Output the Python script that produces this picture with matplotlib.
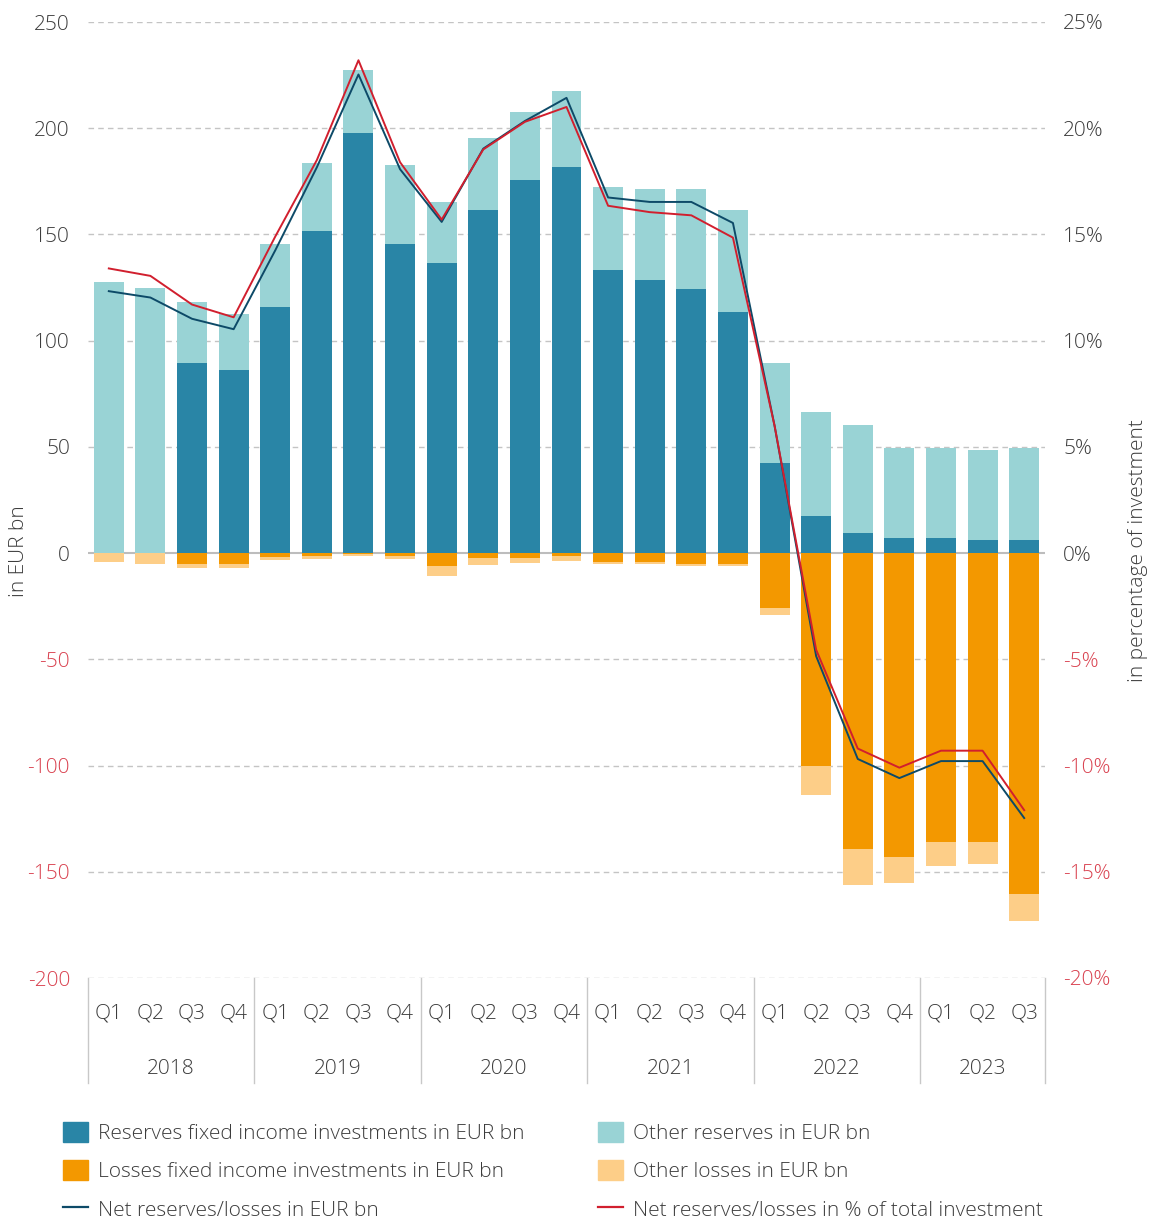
import matplotlib
matplotlib.use("Agg")
import matplotlib.pyplot as plt
import matplotlib.transforms as mtransforms
from matplotlib.patches import Patch
from matplotlib.lines import Line2D
import numpy as np

plt.rcParams['font.family'] = ['Open Sans', 'DejaVu Sans']

quarters = ['Q1', 'Q2', 'Q3', 'Q4'] * 5 + ['Q1', 'Q2', 'Q3']
years = ['2018', '2019', '2020', '2021', '2022', '2023']
quarters_per_year = [4, 4, 4, 4, 4, 3]

reserves_fixed = [0, 0, 89.4, 86, 116, 151.5, 197.6, 145.4, 136.5, 161.4, 175.5, 181.6,
                  133.2, 128.5, 124.2, 113.4, 42.4, 17.4, 9.4, 7, 7, 6, 6]
other_reserves = [127.5, 125, 28.6, 26.5, 29.4, 32, 29.7, 37.2, 28.7, 33.9, 32, 35.8,
                  39, 42.8, 47.1, 48, 47, 49, 50.8, 42.4, 42.4, 42.5, 43.4]
losses_fixed = [0, 0, -5.2, -5.2, -1.7, -1.2, -0.3, -1.2, -6.1, -2.2, -2.2, -1.2,
                -4.2, -4.2, -5.3, -5.3, -25.9, -100.2, -139.3, -143.1, -136, -136, -160.5]
other_losses = [-4.2, -5.2, -1.9, -1.9, -1.4, -1.4, -1.0, -1.4, -4.7, -3.3, -2.4, -2.4,
                -0.9, -0.9, -0.8, -0.9, -3.3, -13.7, -16.9, -12.2, -11.3, -10.4, -12.7]
net_eur = [123.3, 120.3, 110.3, 105.4, 142.5, 181.6, 225.3, 180.7, 155.9, 190.4, 203.4, 214.3,
           167.4, 165.3, 165.3, 155.4, 60, -48.5, -96.9, -105.9, -97.9, -97.9, -124.7]
net_pct = [13.4, 13.05, 11.7, 11.1, 14.9, 18.5, 23.2, 18.4, 15.7, 19.0, 20.3, 21.0,
           16.35, 16.05, 15.9, 14.85, 6.0, -4.55, -9.2, -10.1, -9.3, -9.3, -12.1]

left_ticks = [-200, -150, -100, -50, 0, 50, 100, 150, 200, 250]
right_ticks = [-20, -15, -10, -5, 0, 5, 10, 15, 20, 25]

C_RES = '#2985a6'
C_OTH_RES = '#99d3d5'
C_LOSS = '#f39800'
C_OTH_LOSS = '#fdce88'
C_NET = '#0d4a68'
C_PCT = '#d11f2e'
C_TXT = '#3c3c3c'
C_NEG = '#d9414f'
C_GRID = '#c4c4c4'
FS = 15

fig = plt.figure(figsize=(11.6, 12.19), dpi=100)
ax = fig.add_axes([88 / 1160, 1 - 978 / 1219, 957 / 1160, 956 / 1219])
ax2 = ax.twinx()

x = np.arange(len(quarters))
w = 0.72
ax.bar(x, reserves_fixed, w, color=C_RES, zorder=3)
ax.bar(x, other_reserves, w, bottom=reserves_fixed, color=C_OTH_RES, zorder=3)
ax.bar(x, losses_fixed, w, color=C_LOSS, zorder=3)
ax.bar(x, other_losses, w, bottom=losses_fixed, color=C_OTH_LOSS, zorder=3)
ax.plot(x, net_eur, color=C_NET, lw=1.4, zorder=4)
ax2.plot(x, net_pct, color=C_PCT, lw=1.4, zorder=4)

ax.set_xlim(-0.5, len(quarters) - 0.5)
ax.set_ylim(-200, 250)
ax2.set_ylim(-20, 25)

for t in left_ticks:
    if t == 0:
        ax.axhline(0, color='#bdbdbd', lw=1.5, zorder=2)
    else:
        ax.axhline(t, color=C_GRID, lw=1, ls=(0, (4, 3)), zorder=1)

ax.set_yticks(left_ticks)
ax.set_yticklabels([str(t) for t in left_ticks], fontsize=FS, fontweight='light')
for lab, t in zip(ax.get_yticklabels(), left_ticks):
    lab.set_color(C_NEG if t < 0 else C_TXT)
ax2.set_yticks(right_ticks)
ax2.set_yticklabels([f"{t}%" for t in right_ticks], fontsize=FS, fontweight='light')
for lab, t in zip(ax2.get_yticklabels(), right_ticks):
    lab.set_color(C_NEG if t < 0 else C_TXT)

ax.tick_params(axis='y', length=0, pad=13)
ax2.tick_params(axis='y', length=0, pad=13)

ax.set_xticks(x)
ax.set_xticklabels(quarters, fontsize=FS, fontweight='light', color=C_TXT)
ax.tick_params(axis='x', length=0, pad=18)

for a in (ax, ax2):
    for s in a.spines.values():
        s.set_visible(False)

trans = mtransforms.blended_transform_factory(ax.transData, ax.transAxes)
start = 0
bounds = [-0.5]
for yr, n in zip(years, quarters_per_year):
    center = start + (n - 1) / 2
    ax.text(center, -0.095, yr, transform=trans, ha='center', va='center',
            fontsize=FS, fontweight='light', color=C_TXT)
    start += n
    bounds.append(start - 0.5)
for b in bounds:
    ax.plot([b, b], [0, -0.11], transform=trans, color='#c8c8c8', lw=1, clip_on=False)

ax.set_ylabel('in EUR bn', fontsize=FS, fontweight='light', color=C_TXT)
ax.yaxis.set_label_coords(-0.062, 0.447)
ax2.set_ylabel('in percentage of investment', fontsize=FS, fontweight='light', color=C_TXT)
ax2.yaxis.set_label_coords(1.087, 0.447)

h_left = [Patch(color=C_RES, label='Reserves fixed income investments in EUR bn'),
          Patch(color=C_LOSS, label='Losses fixed income investments in EUR bn'),
          Line2D([0], [0], color=C_NET, lw=1.6, label='Net reserves/losses in EUR bn')]
h_right = [Patch(color=C_OTH_RES, label='Other reserves in EUR bn'),
           Patch(color=C_OTH_LOSS, label='Other losses in EUR bn'),
           Line2D([0], [0], color=C_PCT, lw=1.6, label='Net reserves/losses in % of total investment')]
leg_kw = dict(loc='upper left', frameon=False, handlelength=1.2,
              handleheight=1.1, handletextpad=0.5, labelspacing=0.78, borderpad=0,
              borderaxespad=0, labelcolor=C_TXT, prop={'weight': 'light', 'size': FS})
fig.legend(handles=h_left, bbox_to_anchor=(63 / 1160, 1 - 1122 / 1219), **leg_kw)
fig.legend(handles=h_right, bbox_to_anchor=(598 / 1160, 1 - 1122 / 1219), **leg_kw)

fig.savefig('out.png', dpi=100)
